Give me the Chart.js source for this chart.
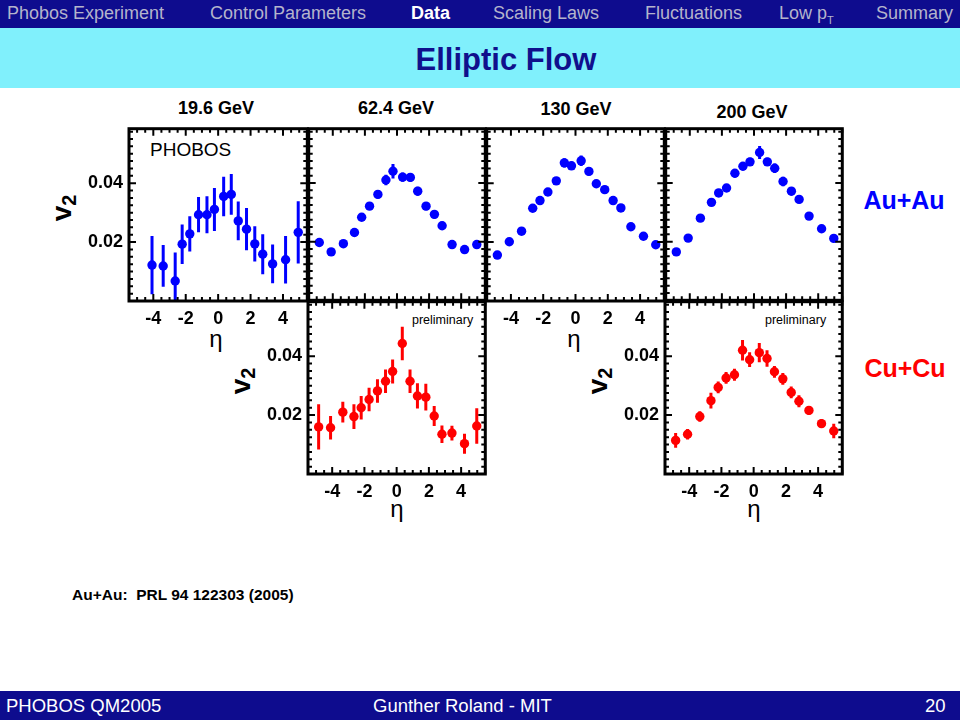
<!DOCTYPE html>
<html>
<head>
<meta charset="utf-8">
<script src="https://cdn.jsdelivr.net/npm/chart.js@4.4.0/dist/chart.umd.min.js"></script>
<style>
  body { margin:0; width:960px; height:720px; position:relative; overflow:hidden; background:#fff;
         font-family:"Liberation Sans", Arial, sans-serif; }
  .abs { position:absolute; white-space:nowrap; }
  #nav { position:absolute; left:0; top:0; width:960px; height:28px; background:#0e0c8e; }
  #nav div { position:absolute; top:3px; font-size:18px; color:#b4b4cc; }
  #band { position:absolute; left:0; top:28px; width:960px; height:60px; background:#80f0fc; }
  #foot { position:absolute; left:0; top:691px; width:960px; height:29px; background:#0e0c8e; color:#fff; font-size:18.5px; }
  canvas { position:absolute; }
  .eta { font-size:24px; }
  .v2 { font-size:28px; font-weight:bold; transform:translate(-50%,-50%) rotate(-90deg); }
  .v2 sub { font-size:20px; vertical-align:-5px; }
  .gev { font-size:18px; font-weight:bold; transform:translate(-50%,-50%); }
</style>
</head>
<body>
<div id="nav">
  <div style="left:7px">Phobos Experiment</div>
  <div style="left:210px">Control Parameters</div>
  <div style="left:411px;color:#fff;font-weight:bold">Data</div>
  <div style="left:493px">Scaling Laws</div>
  <div style="left:645px">Fluctuations</div>
  <div style="left:779px">Low p<sub style="font-size:11px">T</sub></div>
  <div style="left:876px">Summary</div>
</div>
<div id="band"></div>
<div class="abs" style="left:506px;top:60px;transform:translate(-50%,-50%);font-size:31px;font-weight:bold;color:#10108c">Elliptic Flow</div>

<div class="abs gev" style="left:216px;top:108px">19.6 GeV</div>
<div class="abs gev" style="left:396px;top:108px">62.4 GeV</div>
<div class="abs gev" style="left:576px;top:109px">130 GeV</div>
<div class="abs gev" style="left:752px;top:112px">200 GeV</div>

<div class="abs" style="left:150px;top:139px;font-size:19px">PHOBOS</div>
<div class="abs" style="left:412px;top:313px;font-size:12.5px">preliminary</div>
<div class="abs" style="left:765px;top:313px;font-size:12.5px">preliminary</div>

<div class="abs" style="left:904px;top:200px;transform:translate(-50%,-50%);font-size:25px;font-weight:bold;color:#0000ff">Au+Au</div>
<div class="abs" style="left:905px;top:368px;transform:translate(-50%,-50%);font-size:25px;font-weight:bold;color:#ff0000">Cu+Cu</div>

<div class="abs v2" style="left:63px;top:208px">v<sub>2</sub></div>
<div class="abs v2" style="left:242px;top:381px">v<sub>2</sub></div>
<div class="abs v2" style="left:599px;top:381px">v<sub>2</sub></div>
<div class="abs eta" style="left:216px;top:339px;transform:translate(-50%,-50%)">η</div>
<div class="abs eta" style="left:574px;top:339px;transform:translate(-50%,-50%)">η</div>
<div class="abs eta" style="left:397px;top:509px;transform:translate(-50%,-50%)">η</div>
<div class="abs eta" style="left:754px;top:509px;transform:translate(-50%,-50%)">η</div>

<div class="abs" style="left:72px;top:586px;font-size:15.5px;font-weight:bold">Au+Au:&nbsp; PRL 94 122303 (2005)</div>

<div id="foot">
  <div class="abs" style="left:6px;top:4px">PHOBOS QM2005</div>
  <div class="abs" style="left:373px;top:4px">Gunther Roland - MIT</div>
  <div class="abs" style="left:925px;top:4px">20</div>
</div>

<script>
// eta bins and v2 values
var etaAu19 = [-4.08,-3.39,-2.65,-2.22,-1.75,-1.21,-0.69,-0.23,0.34,0.81,1.24,1.75,2.26,2.75,3.36,4.16,4.94];
var v2Au19  = [0.0122,0.0119,0.0068,0.0193,0.0228,0.0293,0.0293,0.0311,0.0355,0.0362,0.0272,0.0244,0.0194,0.0159,0.0126,0.0140,0.0233];
var errAu19 = [0.0099,0.0071,0.0097,0.0067,0.0060,0.0060,0.0063,0.0073,0.0067,0.0069,0.0066,0.0072,0.0060,0.0068,0.0066,0.0081,0.0106];

var etaBins = [-4.84,-4.10,-3.34,-2.65,-2.20,-1.71,-1.19,-0.69,-0.25,0.35,0.83,1.29,1.81,2.33,2.81,3.43,4.21,4.97];

var v2Au62  = [0.0197,0.0165,0.0193,0.0231,0.0283,0.0321,0.0361,0.0410,0.0440,0.0420,0.0419,0.0372,0.0321,0.0293,0.0254,0.0190,0.0173,0.0190];
var errAu62 = [0.0013,0.0013,0.0012,0.0013,0.0013,0.0013,0.0014,0.0018,0.0025,0.0016,0.0015,0.0015,0.0014,0.0014,0.0014,0.0012,0.0012,0.0013];

var v2Au130  = [0.0156,0.0201,0.0237,0.0315,0.0341,0.0370,0.0408,0.0469,0.0459,0.0476,0.0440,0.0398,0.0378,0.0341,0.0316,0.0252,0.0220,0.0191];
var errAu130 = [0.0012,0.0012,0.0012,0.0013,0.0013,0.0013,0.0013,0.0016,0.0014,0.0018,0.0014,0.0013,0.0013,0.0013,0.0013,0.0012,0.0012,0.0012];

var v2Au200  = [0.0165,0.0212,0.0280,0.0334,0.0366,0.0383,0.0433,0.0457,0.0472,0.0504,0.0472,0.0450,0.0405,0.0372,0.0344,0.0287,0.0244,0.0211];
var errAu200 = [0.0012,0.0012,0.0012,0.0012,0.0013,0.0013,0.0014,0.0014,0.0014,0.0022,0.0014,0.0016,0.0016,0.0014,0.0013,0.0012,0.0012,0.0012];

var v2Cu62  = [0.0160,0.0157,0.0210,0.0195,0.0225,0.0253,0.0282,0.0315,0.0348,0.0443,0.0315,0.0265,0.0261,0.0197,0.0135,0.0139,0.0103,0.0163];
var errCu62 = [0.0077,0.0040,0.0035,0.0042,0.0040,0.0040,0.0040,0.0040,0.0041,0.0057,0.0040,0.0043,0.0045,0.0034,0.0030,0.0025,0.0034,0.0060];

var v2Cu200  = [0.0114,0.0135,0.0195,0.0249,0.0294,0.0326,0.0337,0.0420,0.0388,0.0412,0.0392,0.0347,0.0323,0.0277,0.0247,0.0216,0.0171,0.0146];
var errCu200 = [0.0025,0.0018,0.0018,0.0027,0.0020,0.0020,0.0020,0.0035,0.0025,0.0033,0.0028,0.0020,0.0020,0.0020,0.0020,0.0015,0.0015,0.0025];

// tick labels
var xTicks = [-4,-2,0,2,4];
var yTicks = [0.02,0.04];

var BLUE = '#0000ff', RED = '#ff0000';

// error bars, drawn under the markers
var errorBars = {
  id:'errorBars',
  beforeDatasetsDraw: function(chart){
    var ctx = chart.ctx, xs = chart.scales.x, ys = chart.scales.y, a = chart.chartArea;
    ctx.save();
    ctx.beginPath(); ctx.rect(a.left, a.top, a.right-a.left, a.bottom-a.top); ctx.clip();
    chart.data.datasets.forEach(function(ds){
      ctx.strokeStyle = ds.backgroundColor; ctx.lineWidth = 3;
      ds.data.forEach(function(p, i){
        var e = ds.errors[i], px = xs.getPixelForValue(p.x);
        ctx.beginPath();
        ctx.moveTo(px, ys.getPixelForValue(p.y - e));
        ctx.lineTo(px, ys.getPixelForValue(p.y + e));
        ctx.stroke();
      });
    });
    ctx.restore();
  }
};

// black frame with inward major/minor ticks on all sides
var frame = {
  id:'frame',
  afterDraw: function(chart){
    var ctx = chart.ctx, xs = chart.scales.x, ys = chart.scales.y, a = chart.chartArea;
    ctx.save();
    ctx.strokeStyle = '#000';
    ctx.lineWidth = 2;
    ctx.beginPath();
    for (var v = -5.5; v <= 5.5001; v += 0.5) {
      var px = xs.getPixelForValue(v);
      var len = (Math.abs(v % 2) < 0.001 && Math.abs(v) <= 4) ? 7 : 4;
      ctx.moveTo(px, a.bottom); ctx.lineTo(px, a.bottom - len);
      ctx.moveTo(px, a.top); ctx.lineTo(px, a.top + len);
    }
    for (var k = 1; k * 0.0025 < ys.max; k++) {
      var py = ys.getPixelForValue(k * 0.0025);
      var l2 = (k % 8 === 0) ? 7 : 4;
      ctx.moveTo(a.left, py); ctx.lineTo(a.left + l2, py);
      ctx.moveTo(a.right, py); ctx.lineTo(a.right - l2, py);
    }
    ctx.stroke();
    ctx.lineWidth = 3;
    ctx.strokeRect(a.left, a.top, a.right - a.left, a.bottom - a.top);
    ctx.restore();
  }
};

function makePanel(L, R, T, B, showY, showX, eta, v2, err, color){
  var yW = showY ? 52 : 0, xH = showX ? 30 : 0;
  var c = document.createElement('canvas');
  var w = (R - L) + 8 + yW, h = (B - T) + 8 + xH;
  c.width = w; c.height = h;
  c.style.left = (L - 4 - yW) + 'px'; c.style.top = (T - 4) + 'px';
  c.style.width = w + 'px'; c.style.height = h + 'px';
  document.body.appendChild(c);

  var pts = eta.map(function(e, i){ return {x:e, y:v2[i]}; });
  var tickFont = {family:'"Liberation Sans", Arial, sans-serif', size:18, weight:'bold'};

  new Chart(c.getContext('2d'), {
    type:'scatter',
    data:{ datasets:[{ data:pts, errors:err, backgroundColor:color, borderColor:color,
                       pointRadius:4.7, pointBorderWidth:0, pointHoverRadius:4.7 }] },
    options:{
      responsive:false, animation:false, devicePixelRatio:1,
      layout:{ padding:{left:4, right:4, top:4, bottom:4} },
      plugins:{ legend:{display:false}, tooltip:{enabled:false} },
      scales:{
        x:{ type:'linear', min:-5.5, max:5.5,
            grid:{display:false, drawTicks:false}, border:{display:false},
            afterBuildTicks:function(s){ s.ticks = xTicks.map(function(v){ return {value:v}; }); },
            afterFit:function(s){ s.height = xH; s.paddingLeft = 0; s.paddingRight = 0; },
            ticks:{ display:showX, color:'#000', font:tickFont, padding:7, maxRotation:0,
                    callback:function(v){ return String(v); } } },
        y:{ type:'linear', min:0, max:0.0585,
            grid:{display:false, drawTicks:false}, border:{display:false},
            afterBuildTicks:function(s){ s.ticks = yTicks.map(function(v){ return {value:v}; }); },
            afterFit:function(s){ s.width = yW; s.paddingTop = 0; s.paddingBottom = 0; },
            ticks:{ display:showY, color:'#000', font:tickFont, padding:6,
                    callback:function(v){ return v.toFixed(2); } } }
      }
    },
    plugins:[errorBars, frame]
  });
}

makePanel(129, 308, 128, 301, true,  true,  etaAu19, v2Au19,  errAu19,  BLUE);
makePanel(308, 486, 128, 301, false, false, etaBins, v2Au62,  errAu62,  BLUE);
makePanel(486, 665, 128, 301, false, true,  etaBins, v2Au130, errAu130, BLUE);
makePanel(665, 843, 128, 301, false, false, etaBins, v2Au200, errAu200, BLUE);
makePanel(308, 486, 301, 474, true,  true,  etaBins, v2Cu62,  errCu62,  RED);
makePanel(665, 843, 301, 474, true,  true,  etaBins, v2Cu200, errCu200, RED);
</script>
</body>
</html>
